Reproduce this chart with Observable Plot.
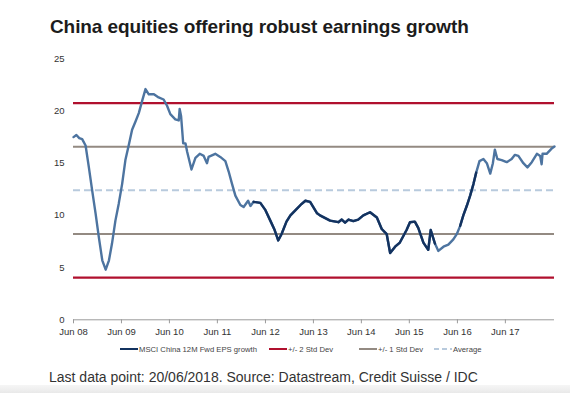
<!DOCTYPE html>
<html><head><meta charset="utf-8">
<script src="https://cdn.jsdelivr.net/npm/d3@7"></script>
<script src="https://cdn.jsdelivr.net/npm/@observablehq/plot@0.6"></script>
<style>
body{margin:0;background:#fff;font-family:"Liberation Sans",Arial,sans-serif;}
#wrap{position:relative;width:570px;height:393px;overflow:hidden;background:#fff;}
#title{position:absolute;left:50px;top:17px;font-size:19px;line-height:19px;font-weight:bold;color:#1c1c1c;white-space:nowrap;letter-spacing:-0.1px;}
#chart{position:absolute;left:0;top:40px;}
#legend{position:absolute;left:0;top:344px;width:570px;height:10px;}
.item{position:absolute;top:0;height:10px;display:flex;align-items:center;font-size:7.7px;color:#444;white-space:nowrap;}
.item svg{display:block;margin-right:1px;}
#caption{position:absolute;left:49px;top:370px;font-size:14px;line-height:14px;color:#333;white-space:nowrap;}
#shade{position:absolute;left:0;top:385px;width:570px;height:8px;background:linear-gradient(#f6f6f6,#e9e9e9);}
</style></head><body>
<div id="wrap">
  <div id="title"></div>
  <div id="chart"></div>
  <div id="legend"></div>
  <div id="caption"></div>
  <div id="shade"></div>
</div>
<script>
// ---- data ----
const titleText = "China equities offering robust earnings growth";
const captionText = "Last data point: 20/06/2018. Source: Datastream, Credit Suisse / IDC";
const seriesName = "MSCI China 12M Fwd EPS growth";

const dates = [
"2008-06-01","2008-06-23","2008-07-15","2008-08-06","2008-09-01","2008-09-26","2008-10-21","2008-11-16","2008-12-11",
"2009-01-06","2009-02-01","2009-02-26","2009-03-21","2009-04-16","2009-05-11","2009-06-06","2009-07-01","2009-07-26",
"2009-08-21","2009-09-16","2009-10-11","2009-11-06","2009-12-01","2009-12-26","2010-02-03","2010-03-11","2010-04-18",
"2010-05-14","2010-06-08","2010-07-16","2010-08-11","2010-08-18","2010-08-29","2010-09-14","2010-10-01","2010-10-14",
"2010-11-16","2010-12-16","2011-01-18","2011-02-17","2011-03-14","2011-03-26","2011-05-16","2011-06-23","2011-08-01",
"2011-08-26","2011-09-21","2011-10-16","2011-11-23","2011-12-18","2012-01-21","2012-02-08","2012-03-03","2012-04-23",
"2012-06-01","2012-07-08","2012-08-10","2012-09-06","2012-10-01","2012-11-08","2012-12-08","2013-01-16","2013-02-23",
"2013-04-01","2013-05-07","2013-06-29","2013-07-21","2013-10-06","2013-12-08","2014-01-03","2014-01-28","2014-02-23",
"2014-04-01","2014-05-08","2014-06-16","2014-08-06","2014-09-27","2014-11-03","2014-12-11","2015-01-06","2015-02-13",
"2015-03-21","2015-05-11","2015-06-06","2015-07-13","2015-08-08","2015-09-16","2015-10-23","2015-11-11","2015-12-13",
"2016-01-08","2016-02-16","2016-03-24","2016-05-01","2016-05-27","2016-06-22","2016-07-16","2016-08-11","2016-09-06",
"2016-10-01","2016-10-22","2016-11-16","2016-12-16","2017-01-11","2017-02-06","2017-02-26","2017-03-13","2017-04-01",
"2017-05-04","2017-06-11","2017-07-19","2017-08-13","2017-09-08","2017-10-16","2017-11-16","2017-12-19","2018-01-27",
"2018-02-21","2018-03-04","2018-03-11","2018-04-11","2018-05-19","2018-06-10"];
const eps = [
17.5,17.7,17.4,17.3,16.7,14.6,12.4,10.2,7.9,
5.7,4.8,5.7,7.3,9.5,11.1,13.0,15.3,16.7,
18.2,19.0,19.8,21.0,22.1,21.6,21.6,21.3,21.1,
20.5,19.7,19.2,19.1,20.2,19.5,16.9,16.9,16.1,
14.4,15.5,15.9,15.7,15.0,15.6,15.9,15.6,15.2,
14.2,13.0,11.9,11.0,10.8,11.4,10.9,11.3,11.2,
10.5,9.5,8.6,7.6,8.2,9.4,10.0,10.5,11.0,
11.4,11.3,10.2,10.0,9.5,9.35,9.6,9.3,9.6,
9.45,9.6,10.0,10.3,9.8,8.7,8.2,6.4,7.0,
7.4,8.6,9.35,9.4,8.8,7.4,6.7,8.6,7.3,
6.6,7.0,7.2,7.7,8.2,9.0,10.0,10.9,11.9,
13.0,14.1,15.2,15.4,15.0,14.0,15.0,16.3,15.4,
15.3,15.1,15.4,15.8,15.7,15.0,14.6,15.1,15.9,
15.7,14.9,15.9,15.9,16.4,16.6];

const stdDev2Levels = [20.76, 4.04];
const stdDev1Levels = [16.58, 8.22];
const averageLevels = [12.4];

const yTicks = [0, 5, 10, 15, 20, 25];
const xTickDates = ["2008-06-01","2009-06-01","2010-06-01","2011-06-01","2012-06-01","2013-06-01","2014-06-01","2015-06-01","2016-06-01","2017-06-01"];
const xTickLabels = ["Jun 08","Jun 09","Jun 10","Jun 11","Jun 12","Jun 13","Jun 14","Jun 15","Jun 16","Jun 17"];
const legendLabels = [seriesName, "+/- 2 Std Dev", "+/- 1 Std Dev", "Average"];

// ---- build ----
const C = {light:"#4d74a0", dark:"#13325f", red:"#b0102e", taupe:"#938a82", avg:"#b8cadd", axis:"#9a9a9a", text:"#333"};
const data = dates.map((d, i) => ({date: new Date(d), value: eps[i]}));
const tickDates = xTickDates.map(d => new Date(d));
const labelOf = new Map(tickDates.map((d, i) => [+d, xTickLabels[i]]));
const darkRanges = [["2012-03-03","2015-12-13"],["2016-06-22","2016-10-22"]].map(r => r.map(s => new Date(s)));

document.getElementById("title").textContent = titleText;
document.getElementById("caption").textContent = captionText;

const marks = [
  Plot.ruleY(stdDev2Levels, {stroke: C.red, strokeWidth: 2.2}),
  Plot.ruleY(stdDev1Levels, {stroke: C.taupe, strokeWidth: 2}),
  Plot.ruleY(averageLevels, {stroke: C.avg, strokeWidth: 2, strokeDasharray: "7,4"}),
  Plot.line(data, {x: "date", y: "value", stroke: C.light, strokeWidth: 2.4, curve: "linear"})
];
for (const [a, b] of darkRanges) {
  marks.push(Plot.line(data.filter(d => d.date >= a && d.date <= b), {x: "date", y: "value", stroke: C.dark, strokeWidth: 2.4}));
}
marks.push(
  Plot.ruleY([0], {stroke: C.axis, strokeWidth: 1}),
  Plot.axisX(tickDates, {tickSize: 4, tickPadding: 4, stroke: C.axis, fill: C.text, fontSize: 9.5, label: null, tickFormat: d => labelOf.get(+d)}),
  Plot.axisY(yTicks, {tickSize: 0, tickPadding: 9, fill: C.text, fontSize: 9.5, label: null})
);

const plot = Plot.plot({
  width: 570,
  height: 300,
  marginLeft: 73,
  marginRight: 16,
  marginTop: 18.3,
  marginBottom: 20.7,
  style: {fontFamily: "'Liberation Sans', Arial, sans-serif", color: C.text, background: "transparent", overflow: "visible"},
  x: {type: "utc", domain: [new Date(dates[0]), new Date(dates[dates.length - 1])], label: null},
  y: {domain: [0, 25], label: null},
  marks
});
document.getElementById("chart").appendChild(plot);

// ---- legend ----
const legendPos = [120, 269, 359, 434];
const legendStyles = [
  {stroke: C.dark, dash: null},
  {stroke: C.red, dash: null},
  {stroke: C.taupe, dash: null},
  {stroke: C.avg, dash: "5,3"}
];
const legend = document.getElementById("legend");
legendLabels.forEach((lab, i) => {
  const item = document.createElement("div");
  item.className = "item";
  item.style.left = legendPos[i] + "px";
  const s = legendStyles[i];
  item.innerHTML = `<svg width="18" height="10"><line x1="0" x2="18" y1="5" y2="5" stroke="${s.stroke}" stroke-width="2"${s.dash ? ` stroke-dasharray="${s.dash}"` : ""}/></svg>`;
  const t = document.createElement("span");
  t.textContent = lab;
  item.appendChild(t);
  legend.appendChild(item);
});
</script>
</body></html>
